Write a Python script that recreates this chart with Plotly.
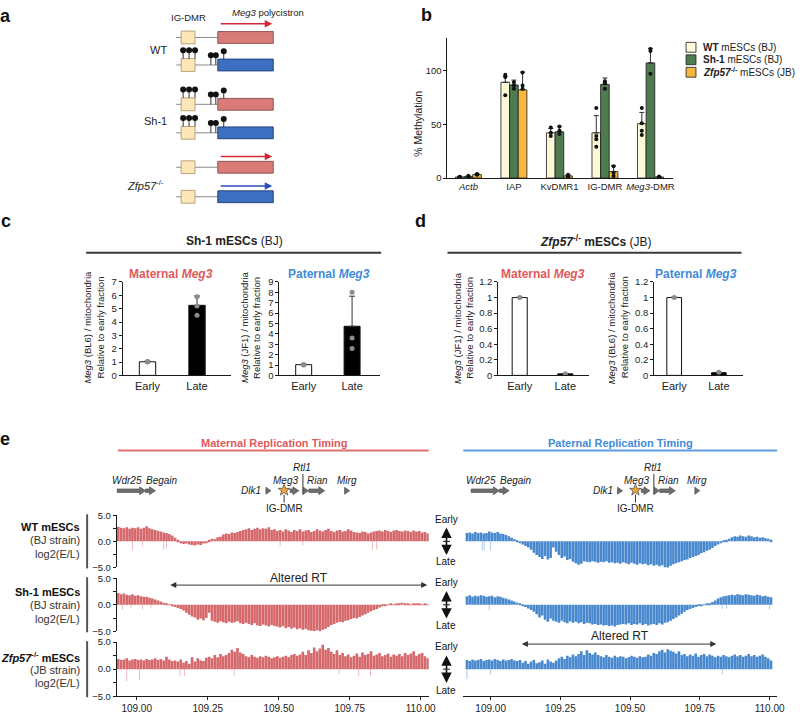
import plotly.graph_objects as go

W, H = 800, 714
FONT = "Liberation Sans, Arial, sans-serif"


def X(px):
    return px / W


def Y(py):
    return 1 - py / H


# ======================= DATA =======================
# ---- panel b : % methylation ----
b_categories = ["<i>Actb</i>", "IAP", "KvDMR1", "IG-DMR", "<i>Meg3</i>-DMR"]
b_series = ["<b>WT</b> mESCs (BJ)", "<b>Sh-1</b> mESCs (BJ)",
            "<b><i>Zfp57</i><sup>-/-</sup></b> mESCs (JB)"]
b_wt = [1.0, 89.0, 42.0, 42.0, 50.5]
b_sh1 = [1.5, 86.5, 43.0, 87.0, 107.0]
b_zfp = [3.2, 82.0, 2.0, 6.0, 1.0]
b_wt_err = [0.4, 5.5, 4.0, 16.0, 10.5]
b_sh1_err = [0.4, 4.5, 5.0, 6.0, 13.5]
b_zfp_err = [0.8, 16.5, 1.0, 5.5, 0.4]
b_wt_pts = [[0.8, 1.0, 1.2], [96, 94, 77], [47, 42, 39], [65, 39, 36, 29], [65, 51, 44, 40]]
b_sh1_pts = [[1.3, 1.6, 1.8], [89, 86, 83], [48, 44, 41], [90, 88, 83], [120, 118, 97]]
b_zfp_pts = [[3.0, 3.8, 3.2], [98, 86, 83], [3.0, 2.0, 1.2], [11, 5, 2], [1.5, 0.8, 0.6]]

# ---- panels c / d : Meg3 in early / late fractions ----
fractions = ["Early", "Late"]
c_mat = [1.02, 5.25]
c_mat_err = [0.05, 0.7]
c_mat_pts = [[1.0, 1.02, 1.04], [5.9, 5.2, 4.5]]
c_pat = [1.03, 4.73]
c_pat_err = [0.06, 2.9]
c_pat_pts = [[1.0, 1.03, 1.05], [8.0, 3.6, 2.6]]
d_mat = [1.0, 0.02]
d_mat_err = [0.006, 0.004]
d_mat_pts = [[1.0], [0.02]]
d_pat = [1.0, 0.035]
d_pat_err = [0.006, 0.006]
d_pat_pts = [[1.0], [0.04]]

# ---- panel e : replication timing log2(E/L), 10 kb bins ----
mat_start = 108.935
pat_start = 108.915
bin_size = 0.01
mat_wt = [2.8, 2.6, 2.5, 2.7, 2.4, 2.6, 2.5,
          2.7, 2.4, 2.6, 2.9, 2.5, 2.3,
          2.2, 2.0, 1.9, 1.7, 1.6, 1.4, 1.1,
          0.7, 0.3,
          -0.3, -0.5, -0.4, -0.6, -0.7, -0.8, -0.6, -0.7, -0.4, -0.2,
          0.3, 0.5, 0.4, 0.8, 0.9,
          1.3, 1.5, 1.4, 1.7, 1.6, 1.8, 2.0, 2.2,
          2.3, 2.5, 2.2, 2.4, 2.6, 2.3, 2.5, 2.4, 2.7, 2.2, 2.3,
          2.0, 2.2, 1.9, 2.3, 2.1, 1.8, 2.2, 2.0, 2.3, 1.9, 2.1, 2.2, 1.8, 2.0,
          2.3, 2.1, 1.9, 2.2, 2.4, 2.0, 1.8, 2.1, 2.2, 1.9, 2.0, 2.3, 2.1, 1.8,
          1.7, 1.6, 1.9, 1.8, 1.5, 1.7, 1.9,
          2.0, 2.1, 1.9, 2.2, 2.0, 1.8, 2.1, 2.2, 2.0, 1.9, 2.1, 2.0, 1.8, 2.1,
          1.9, 2.0, 1.7, 1.8, 1.5]
mat_sh1 = [2.2, 2.0, 2.1, 1.9, 1.8, 2.0, 1.7, 1.8,
           1.6, 1.5, 1.5, 1.3, 1.2, 1.0, 0.8, 0.6,
           0.4, 0.3, 0.1, -0.2,
           -0.4, -0.6, -0.8, -1.1,
           -1.5, -1.9, -2.2, -2.4, -2.8, -2.6, -2.9, -2.5, -1.5,
           -3.0, -3.2, -3.4, -3.1, -3.3, -3.5, -3.2, -3.4, -3.3, -3.1, -3.5, -3.6,
           -3.4, -3.6, -3.8, -3.5, -3.9, -4.0, -3.7, -3.9, -4.1, -3.8, -4.0,
           -4.1, -4.3, -4.0, -4.4, -4.2, -4.5, -4.3, -4.6, -4.4, -4.7, -4.5, -4.8,
           -4.9, -5.0, -4.8, -5.1, -4.7, -4.5, -4.2,
           -3.8, -3.6, -3.4, -3.2, -3.3, -3.0, -2.9, -2.7, -2.5, -2.6, -2.3,
           -2.0, -1.8, -1.5, -1.2, -1.0, -0.8, -0.5, -0.3, -0.1,
           0.1, 0.2, 0.1, 0.3, 0.2, 0.4, 0.3, 0.2, 0.1, 0.2, 0.3, 0.2, 0.1, 0.2, 0.1]
mat_zfp = [1.9, 1.7, 1.8, 2.0, 1.6, 1.8, 1.9, 1.7, 1.8, 1.6,
           1.9, 1.7, 1.8, 2.0, 1.7, 1.9, 1.6, 2.3, 1.8, 1.5,
           1.6, 1.4, 1.8, 1.2, 1.5, 1.0, 2.2, 1.4, 2.0, 1.6,
           1.5, 2.1, 2.3, 2.0, 2.6, 2.2, 2.8, 2.4, 2.6, 3.0,
           3.6, 3.2, 3.9, 3.1, 2.8,
           2.4, 2.2, 2.6, 2.3, 2.1, 2.4, 2.2, 2.5, 2.3, 2.0, 2.2, 2.4, 2.1, 2.3, 2.5, 2.2, 2.6,
           2.8, 2.5, 2.7, 3.2, 2.6, 3.5, 3.0, 4.0, 3.3, 3.8, 4.5, 3.6,
           3.9, 3.2, 2.8, 3.5, 2.6, 3.0, 2.4, 2.7, 2.2,
           2.5, 2.9, 2.3, 3.1, 2.6, 2.8, 3.3, 2.5, 2.7, 3.0, 2.4, 2.6,
           2.9, 2.3, 2.7, 2.5, 2.8, 2.4, 3.0, 2.6, 2.9, 3.3, 2.5, 2.8, 3.0, 2.4, 2.0]
pat_wt = [1.6, 1.7, 1.5, 1.8, 1.6, 1.7, 1.5, 1.6, 1.9, 1.7, 1.6, 1.8, 1.5, 1.4,
          1.2, 1.0, 0.7, 0.4, 0.2,
          -0.3, -0.6, -0.9, -1.2, -1.6,
          -2.2, -2.6, -3.0, -3.4, -2.8, -3.5, -3.2,
          -1.2, -2.0,
          -2.6, -3.2, -2.9, -3.6, -3.4, -3.9, -4.2, -4.5, -4.3,
          -3.8, -3.9, -4.0, -3.8, -3.9, -4.1, -3.9, -4.0, -3.8, -4.1, -4.0, -4.2,
          -4.1, -4.3, -4.0, -4.2, -4.4, -4.1, -4.3, -4.5, -4.2, -4.4, -4.3, -4.6, -4.4, -4.7,
          -4.5, -4.8, -4.6, -5.0, -5.1, -4.7, -4.4,
          -4.2, -4.0, -3.8, -3.6, -3.5,
          -3.2, -3.0, -2.8, -2.6, -2.3, -2.1, -1.8, -1.6, -1.3,
          -0.9, -0.6, -0.3, 0.1, 0.3, 0.5,
          0.8, 1.0, 0.9, 1.1, 1.0, 0.9, 1.1, 1.0, 0.8, 0.9, 0.7, 0.8, 0.6, 0.5, 0.3]
pat_sh1 = [1.6, 1.8, 1.5, 1.7, 1.6, 1.8, 1.7, 1.5, 1.6, 1.7, 1.4, 1.6, 1.5, 1.3, 1.2,
           1.0, 0.8, 0.6, 0.4, 0.2,
           -0.2, -0.4, -0.7, -1.0, -1.3,
           -1.8, -2.4, -2.0, -2.8, -3.2, -2.6, -3.0,
           -3.2, -3.4, -3.0, -3.3, -3.5, -3.1, -3.4, -3.2, -3.5, -3.3, -3.6, -3.4,
           -3.5, -3.7, -3.6, -3.8, -3.7, -3.9, -3.8, -4.0, -3.9, -4.1, -3.8, -3.7,
           -3.6, -3.7, -3.5, -3.8, -3.6, -3.7, -3.5, -3.8, -3.6, -3.9, -3.7, -3.6, -3.8,
           -3.5, -3.7, -3.4, -3.3,
           -3.0, -2.7, -2.4, -2.0, -1.7, -1.3,
           -1.0, -0.8, -0.6, -0.4, -0.2, -0.1, 0.1,
           0.2, 0.3, 0.5, 0.8,
           1.2, 1.4, 1.6, 1.7, 1.8, 1.9, 1.8, 2.0, 1.9, 1.8,
           2.0, 1.9, 1.8, 1.7, 1.9, 1.8, 1.6, 1.7, 1.5, 1.4]
pat_zfp = [1.7, 1.5, 1.8, 1.6, 1.7, 1.9, 1.5, 1.7, 1.8, 1.6,
           1.9, 1.7, 1.5, 1.8, 1.6, 1.7, 1.9, 1.6, 1.5, 1.7,
           1.2, 1.5, 1.0, 1.4, 1.7, 1.1, 1.3, 1.6, 1.0, 1.8, 1.4, 1.2,
           1.6, 2.0, 2.3, 1.9, 2.5, 2.2, 2.7, 2.4,
           2.8, 3.3, 2.6, 3.5, 3.0, 2.7, 3.1, 2.6,
           2.4, 2.2, 2.6, 2.3, 2.1, 2.5, 2.2, 2.4, 2.3, 2.0, 2.2, 2.5, 2.3, 2.1, 2.4, 2.2, 2.3,
           2.7, 2.5, 3.0, 2.8, 3.3, 3.6, 3.1, 3.7, 3.4, 3.2, 2.9, 3.3,
           2.6, 2.8, 2.4, 2.7, 2.5, 2.9, 2.3, 2.6, 2.8, 2.4, 2.7, 2.5, 2.2,
           2.5, 2.3, 2.6, 2.4, 2.2, 2.5, 2.7, 2.4, 2.6, 2.3,
           2.5, 2.8, 2.4, 2.6, 2.3, 2.5, 2.7, 2.3, 2.0, 1.6]
# isolated single-bin dips (position Mb, log2 E/L)
mat_wt_spk = ([108.985, 109.02, 109.095, 109.105, 109.505, 109.585, 109.83, 109.845],
              [-1.7, -0.9, -1.6, -1.4, -0.9, -0.7, -1.6, -1.5])
mat_sh1_spk = ([108.95, 108.98, 109.02, 109.05], [-0.9, -0.6, -0.9, -0.7])
mat_zfp_spk = ([108.965, 109.01, 109.152, 109.169, 109.343, 109.713, 109.782, 109.823],
               [-2.2, -2.0, -1.2, -1.3, -1.2, -0.9, -1.2, -1.4])
pat_wt_spk = ([108.97, 108.977, 109.0], [-1.8, -1.7, -1.8])
pat_sh1_spk = ([108.995, 109.83, 109.845, 110.0], [-1.0, -0.8, -0.7, -0.9])
pat_zfp_spk = ([108.915, 109.0, 109.83], [-1.8, -1.0, -1.0])

# genes (Mb)
gene_arrows = [("Wdr25", 108.930, 109.031), ("Begain", 109.031, 109.066),
               ("Meg3", 109.540, 109.571), ("Rian", 109.606, 109.662)]
gene_points = [("Dlk1", 109.462), ("Rtl1", 109.594), ("Mirg", 109.739)]
ig_dmr_pos = 109.519
altered_mat = (109.118, 110.028)
altered_pat = (109.112, 109.814)
genome_ticks = [109.00, 109.25, 109.50, 109.75, 110.00]

# ======================= STYLE =======================
C_WT, C_SH1, C_ZFP = "#fdf8d6", "#4f7b51", "#f6b740"
C_RED, C_RED_L = "rgb(213,104,107)", "rgba(213,104,107,0.55)"
C_BLUE, C_BLUE_L = "rgb(72,137,206)", "rgba(72,137,206,0.55)"
T_RED, T_BLUE = "#e05a5c", "#3f8bd9"

fig = go.Figure()
lay = {}


def axes(n, xdom, ydom, xr, yr, xkw=None, ykw=None):
    xs = "" if n == 1 else str(n)
    xa = dict(domain=xdom, range=xr, anchor="y" + xs, showgrid=False, zeroline=False,
              fixedrange=True, showline=False, ticks="", showticklabels=False,
              tickfont=dict(family=FONT, size=10, color="#222"))
    ya = dict(domain=ydom, range=yr, anchor="x" + xs, showgrid=False, zeroline=False,
              fixedrange=True, showline=False, ticks="", showticklabels=False,
              tickfont=dict(family=FONT, size=9.5, color="#222"))
    xa.update(xkw or {})
    ya.update(ykw or {})
    lay["xaxis" + xs] = xa
    lay["yaxis" + xs] = ya
    return "x" + xs, "y" + xs


AXL = dict(showline=True, linecolor="#1a1a1a", linewidth=1)

# ---------------- panel b ----------------
xb, yb = axes(1, [X(452), X(680)], [Y(175), Y(32.7)], [-0.46, 4.5], [0, 130],
              dict(tickvals=list(range(5)), ticktext=b_categories, showticklabels=True,
                   tickfont=dict(family=FONT, size=9.5, color="#222"), **AXL),
              dict(tickvals=[0, 50, 100], showticklabels=True, ticks="outside", ticklen=3,
                   tickcolor="#1a1a1a", **AXL))
bw = 0.19
for k, (vals, errs, pts, col) in enumerate([(b_wt, b_wt_err, b_wt_pts, C_WT),
                                            (b_sh1, b_sh1_err, b_sh1_pts, C_SH1),
                                            (b_zfp, b_zfp_err, b_zfp_pts, C_ZFP)]):
    off = (k - 1) * bw
    fig.add_bar(x=list(range(5)), y=vals, width=bw, offset=off - bw / 2,
                marker=dict(color=col, line=dict(color="#1a1a1a", width=0.8)),
                error_y=dict(type="data", array=errs, arrayminus=[0] * 5, symmetric=False,
                             color="#1a1a1a", thickness=0.9, width=2.5),
                xaxis=xb, yaxis=yb, showlegend=False, name=b_series[k])
    px_, py_ = [], []
    for i, p in enumerate(pts):
        for v in p:
            px_.append(i + off)
            py_.append(v)
    fig.add_scatter(x=px_, y=py_, mode="markers", marker=dict(color="#111", size=4),
                    xaxis=xb, yaxis=yb, showlegend=False)

# ---------------- panels c / d ----------------
def small_bar(n, xdom, xr, yr, ytv, vals, errs, pts, ytt=None):
    xa, ya = axes(n, xdom, [Y(375.7), Y(280.7)], xr, yr,
                  dict(tickvals=[0, 1], ticktext=fractions, showticklabels=True,
                       tickfont=dict(family=FONT, size=11, color="#222"), **AXL),
                  dict(tickvals=ytv, ticktext=ytt, showticklabels=True, ticks="outside", ticklen=3,
                       tickcolor="#1a1a1a", **AXL))
    fig.add_bar(x=[0, 1], y=vals, width=0.33,
                marker=dict(color=["white", "black"], line=dict(color="#111", width=1)),
                error_y=dict(type="data", array=errs, arrayminus=[0, 0], symmetric=False,
                             color="#333", thickness=1, width=3),
                xaxis=xa, yaxis=ya, showlegend=False)
    px_, py_ = [], []
    for i, p in enumerate(pts):
        for v in p:
            px_.append(i)
            py_.append(v)
    fig.add_scatter(x=px_, y=py_, mode="markers", marker=dict(color="#8c8c8c", size=5),
                    xaxis=xa, yaxis=ya, showlegend=False)


small_bar(2, [X(124), X(233)], [-0.5, 1.68], [0, 7], list(range(8)), c_mat, c_mat_err, c_mat_pts)
small_bar(3, [X(282.3), X(384)], [-0.5, 1.58], [0, 9], list(range(10)), c_pat, c_pat_err, c_pat_pts)
dtv = [0, 0.2, 0.4, 0.6, 0.8, 1.0, 1.2]
dtt = ["0", "0.2", "0.4", "0.6", "0.8", "1", "1.2"]
small_bar(4, [X(503.3), X(595)], [-0.47, 1.52], [0, 1.2], dtv, d_mat, d_mat_err, d_mat_pts, dtt)
small_bar(5, [X(660.7), X(750)], [-0.45, 1.53], [0, 1.2], dtv, d_pat, d_pat_err, d_pat_pts, dtt)

# ---------------- panel e tracks ----------------
mat_range = [108.930, 110.028]
pat_range = [108.902, 110.027]
track_rows = [(571, 518), (636, 582), (702, 647)]
ytick = dict(tickvals=[-5, -2.5, 0, 2.5, 5], ticktext=["\u22125.0", "", "0.0", "", "5.0"],
             showticklabels=True, ticks="outside", ticklen=3, tickcolor="#1a1a1a",
             tickfont=dict(family=FONT, size=9.5, color="#222"), **AXL)
xbottom = dict(tickvals=genome_ticks, ticktext=["%.2f" % t for t in genome_ticks],
               showticklabels=True, ticks="outside", ticklen=3, tickcolor="#1a1a1a",
               tickfont=dict(family=FONT, size=10, color="#222"), **AXL)

mat_sets = [(mat_wt, mat_wt_spk), (mat_sh1, mat_sh1_spk), (mat_zfp, mat_zfp_spk)]
pat_sets = [(pat_wt, pat_wt_spk), (pat_sh1, pat_sh1_spk), (pat_zfp, pat_zfp_spk)]
mat_axes, pat_axes = [], []
for r, ((yb0, yb1), (mv, ms), (pv, ps)) in enumerate(zip(track_rows, mat_sets, pat_sets)):
    xm, ym = axes(6 + r, [X(118), X(433)], [Y(yb0), Y(yb1)], mat_range, [-5, 5],
                  xbottom if r == 2 else None, ytick)
    xp, yp = axes(9 + r, [X(468), X(785)], [Y(yb0), Y(yb1)], pat_range, [-5, 5],
                  xbottom if r == 2 else None, None)
    mat_axes.append((xm, ym))
    pat_axes.append((xp, yp))
    for vals, spk, start, col, lcol, xa, ya in [(mv, ms, mat_start, C_RED, C_RED_L, xm, ym),
                                                (pv, ps, pat_start, C_BLUE, C_BLUE_L, xp, yp)]:
        pos = [round(start + bin_size * i, 4) for i in range(len(vals))]
        fig.add_bar(x=pos, y=vals, width=bin_size * 0.93, marker=dict(color=col, line=dict(width=0)),
                    xaxis=xa, yaxis=ya, showlegend=False)
        fig.add_bar(x=spk[0], y=spk[1], width=0.0028, marker=dict(color=lcol, line=dict(width=0)),
                    xaxis=xa, yaxis=ya, showlegend=False)

# ======================= DECORATION =======================
ann = []
shapes = []


def text(px, py, s, size=10, color="#222", xanchor="center", angle=0, yanchor="middle"):
    ann.append(dict(x=X(px), y=Y(py), xref="paper", yref="paper", text=s, showarrow=False,
                    xanchor=xanchor, yanchor=yanchor, textangle=angle,
                    font=dict(family=FONT, size=size, color=color)))


def line(x0, y0, x1, y1, color="#333", width=1):
    shapes.append(dict(type="line", xref="paper", yref="paper", x0=X(x0), y0=Y(y0), x1=X(x1), y1=Y(y1),
                       line=dict(color=color, width=width)))


def rect(x0, y0, x1, y1, fill, lc, lw=1):
    shapes.append(dict(type="rect", xref="paper", yref="paper", x0=X(x0), y0=Y(y0), x1=X(x1), y1=Y(y1),
                       fillcolor=fill, line=dict(color=lc, width=lw)))


def dot(px, py, r=3, color="#111"):
    shapes.append(dict(type="circle", xref="paper", yref="paper", xsizemode="pixel", ysizemode="pixel",
                       xanchor=X(px), yanchor=Y(py), x0=-r, x1=r, y0=-r, y1=r,
                       fillcolor=color, line=dict(color=color, width=0)))


def arrow(x0, y0, x1, y1, color, width=1.5, head=2, size=1, both=False, xref="paper"):
    """tail (x0,y0) -> head (x1,y1); y in screen pixels. x in pixels (paper) or data."""
    if xref == "paper":
        d = dict(x=X(x1), y=Y(y1), xref="paper", yref="paper",
                 ax=x0 - x1, ay=y0 - y1, axref="pixel", ayref="pixel")
    else:
        d = dict(x=x1, y=Y(y1), xref=xref, yref="paper",
                 ax=x0, ay=y0 - y1, axref=xref, ayref="pixel")
    d.update(text="", showarrow=True, arrowhead=head, arrowsize=size, arrowwidth=width,
             arrowcolor=color)
    if both:
        d["arrowside"] = "end+start"
        d["startarrowhead"] = head
        d["startarrowsize"] = size
    ann.append(d)


def dtext(xref, x, py, s, size=10, xanchor="center"):
    ann.append(dict(x=x, y=Y(py), xref=xref, yref="paper", text=s, showarrow=False,
                    xanchor=xanchor, yanchor="middle", font=dict(family=FONT, size=size, color="#222")))


# panel letters
for s, px, py in [("a", 6, 10), ("b", 431, 9), ("c", 6, 219), ("d", 425, 219), ("e", 5, 440)]:
    text(px, py, "<b>%s</b>" % s, size=18, color="#111")

# ---------------- panel a schematic ----------------
RED_BOX, RED_LN = "#d97b77", "#8f5754"
BLUE_BOX, BLUE_LN = "#3c6fc0", "#27467a"
a_rows = [(32, RED_BOX, RED_LN, False), (60, BLUE_BOX, BLUE_LN, True),
          (100, RED_BOX, RED_LN, True), (129, BLUE_BOX, BLUE_LN, True),
          (164, RED_BOX, RED_LN, False), (194, BLUE_BOX, BLUE_LN, False)]
for yc, fc, lc, meth in a_rows:
    line(178, yc, 220, yc, "#8a8a8a", 1)
    rect(183, yc - 6.5, 197, yc + 6.5, "#fde6b8", "#b9a27c", 1)
    rect(220, yc - 6, 276, yc + 6, fc, lc, 1)
    if meth:
        for lx in (185, 191, 197):
            line(lx, yc - 6.5, lx, yc - 15, "#333", 1)
            dot(lx, yc - 15)
        for lx in (213, 218):
            line(lx, yc, lx, yc - 10, "#333", 1)
            dot(lx, yc - 10)
        line(226, yc - 6, 226, yc - 14, "#333", 1)
        dot(226, yc - 14)
arrow(222, 18, 275, 18, "#d42a35", width=1.5, head=2)
arrow(222, 153, 275, 153, "#d42a35", width=1.5, head=2)
arrow(222, 183, 275, 183, "#2a4db5", width=1.5, head=2)
text(190, 12, "IG-DMR", size=9.5)
text(232, 7, "<i>Meg3</i> polycistron", size=9.5, xanchor="left")
text(160, 45, "WT", size=11)
text(157, 117, "Sh-1", size=11)
text(147, 182, "<i>Zfp57</i><sup>-/-</sup>", size=11)

# ---------------- panel b extras ----------------
text(422, 120, "% Methylation", size=10.5, angle=-90)
leg_cols = [C_WT, C_SH1, C_ZFP]
for i, (s, col) in enumerate(zip(b_series, leg_cols)):
    yc = 42 + i * 12.7
    rect(693, yc - 5, 703, yc + 5, col, "#1a1a1a", 0.8)
    text(708, yc, s, size=10, xanchor="left")

# ---------------- panels c / d headers ----------------
text(237, 239, "<b>Sh-1 mESCs</b> (BJ)", size=12)
line(87, 251, 385, 251, "#3a3a3a", 2)
text(602, 239, "<b><i>Zfp57</i><sup>-/-</sup> mESCs</b> (JB)", size=12)
line(452, 251, 749, 251, "#3a3a3a", 2)
for px, s, col in [(173, "Maternal <i>Meg3</i>", T_RED), (332, "Paternal <i>Meg3</i>", T_BLUE),
                   (548, "Maternal <i>Meg3</i>", T_RED), (703, "Paternal <i>Meg3</i>", T_BLUE)]:
    text(px, 273, "<b>%s</b>" % s, size=12, color=col)
for x1, x2, s in [(88, 102, "(BL6)"), (247, 259, "(JF1)"), (462, 474, "(JF1)"), (618, 631, "(BL6)")]:
    text(x1, 327, "<i>Meg3</i> %s / mitochondria" % s, size=9.5, angle=-90)
    text(x2, 327, "Relative to early fraction", size=9.5, angle=-90)

# ---------------- panel e decorations ----------------
text(277, 444, "<b>Maternal Replication Timing</b>", size=11, color=T_RED)
line(119, 452, 433, 452, "#e07070", 2)
text(627, 444, "<b>Paternal Replication Timing</b>", size=11, color=T_BLUE)
line(468, 452, 785, 452, "#5f9be0", 2)

row_labels = [("<b>WT mESCs</b>", "(BJ strain)", 530),
              ("<b>Sh-1 mESCs</b>", "(BJ strain)", 596),
              ("<b><i>Zfp57</i><sup>-/-</sup> mESCs</b>", "(JB strain)", 662)]
for (l1, l2, y0), (yb0, yb1) in zip(row_labels, track_rows):
    text(83, y0, l1, size=11, xanchor="right", color="#111")
    text(83, y0 + 13.5, l2, size=11, xanchor="right", color="#333")
    text(83, y0 + 27, "log2(E/L)", size=11, xanchor="right", color="#333")
    line(88, yb1 - 1, 88, yb0 + 1, "#555", 2)
    mid = (yb0 + yb1) / 2
    text(451, yb1 + 4, "Early", size=10, color="#111")
    text(451, yb0 - 6, "Late", size=10, color="#111")
    arrow(451, mid - 1, 451, mid + 14, "#111", width=1.6, head=2, size=1.3)
    arrow(451, mid + 1, 451, mid - 14, "#111", width=1.6, head=2, size=1.3)
    line(447.5, mid, 454.5, mid, "#111", 1)

# Altered RT arrows
arrow(altered_mat[1], 589, altered_mat[0], 589, "#333", width=1, head=2, size=1.2, both=True,
      xref=mat_axes[1][0])
dtext(mat_axes[1][0], (altered_mat[0] + altered_mat[1]) / 2, 582, "Altered RT", size=12)
arrow(altered_pat[1], 649, altered_pat[0], 649, "#333", width=1, head=2, size=1.2, both=True,
      xref=pat_axes[2][0])
dtext(pat_axes[2][0], (altered_pat[0] + altered_pat[1]) / 2, 641, "Altered RT", size=12)

# gene annotation rows
GENE_FILL, GENE_LN = "#6e6e6e", "#444"
STAR = "M 0 6 L 1.6 1.9 L 5.9 1.9 L 2.4 -0.7 L 3.7 -4.9 L 0 -2.3 L -3.7 -4.9 L -2.4 -0.7 L -5.9 1.9 L -1.6 1.9 Z"
gy = 493
for xr_name, rng, dom in [(mat_axes[0][0], mat_range, (118, 433)), (pat_axes[0][0], pat_range, (468, 785))]:
    mb_per_px = (rng[1] - rng[0]) / (dom[1] - dom[0])
    head = 6 * mb_per_px
    for name, g0, g1 in gene_arrows:
        h0 = max(g1 - head, g0)
        path = "M {a},{b} L {c},{b} L {c},{d} L {e},{f} L {c},{g} L {c},{h} L {a},{h} Z".format(
            a=g0, c=h0, e=g1, b=Y(gy - 1.8), d=Y(gy - 4), f=Y(gy), g=Y(gy + 4), h=Y(gy + 1.8))
        shapes.append(dict(type="path", xref=xr_name, yref="paper", path=path,
                           fillcolor=GENE_FILL, line=dict(color=GENE_LN, width=0.6)))
    for name, g in gene_points:
        shapes.append(dict(type="path", xref=xr_name, yref="paper", xsizemode="pixel",
                           ysizemode="pixel", xanchor=g, yanchor=Y(gy),
                           path="M -2 3.5 L 3 0 L -2 -3.5 Z", fillcolor=GENE_FILL,
                           line=dict(color=GENE_LN, width=0.6)))
    rtl = [g for n, g in gene_points if n == "Rtl1"][0]
    shapes.append(dict(type="line", xref=xr_name, yref="paper", x0=rtl - 2.5 * mb_per_px,
                       x1=rtl - 2.5 * mb_per_px, y0=Y(476), y1=Y(497), line=dict(color="#333", width=1)))
    shapes.append(dict(type="line", xref=xr_name, yref="paper", x0=ig_dmr_pos, x1=ig_dmr_pos,
                       y0=Y(497), y1=Y(505), line=dict(color="#333", width=1)))
    shapes.append(dict(type="path", xref=xr_name, yref="paper", xsizemode="pixel", ysizemode="pixel",
                       xanchor=ig_dmr_pos, yanchor=Y(gy - 0.5), path=STAR, fillcolor="#f2a33a",
                       line=dict(color="#555", width=0.8)))
    labels = [("<i>Wdr25</i>", (gene_arrows[0][1] + gene_arrows[0][2]) / 2 - 4 * mb_per_px, 483, "center"),
              ("<i>Begain</i>", gene_arrows[1][2] + 7 * mb_per_px, 483, "center"),
              ("<i>Dlk1</i>", gene_points[0][1] - 5 * mb_per_px, 493, "right"),
              ("<i>Meg3</i>", ig_dmr_pos + 1 * mb_per_px, 483, "center"),
              ("<i>Rtl1</i>", rtl - 3 * mb_per_px, 469, "center"),
              ("<i>Rian</i>", (gene_arrows[3][1] + gene_arrows[3][2]) / 2 + 1 * mb_per_px, 483, "center"),
              ("<i>Mirg</i>", gene_points[2][1], 483, "center")]
    for s, gx, yy, xa in labels:
        dtext(xr_name, gx, yy, s, size=10, xanchor=xa)
    dtext(xr_name, ig_dmr_pos, 511, "IG-DMR", size=10)

fig.update_layout(
    width=W, height=H, margin=dict(l=0, r=0, t=0, b=0),
    paper_bgcolor="white", plot_bgcolor="rgba(0,0,0,0)",
    barmode="overlay", showlegend=False,
    font=dict(family=FONT, size=10, color="#222"),
    annotations=ann, shapes=shapes, **lay)

fig.write_html("out.html")
